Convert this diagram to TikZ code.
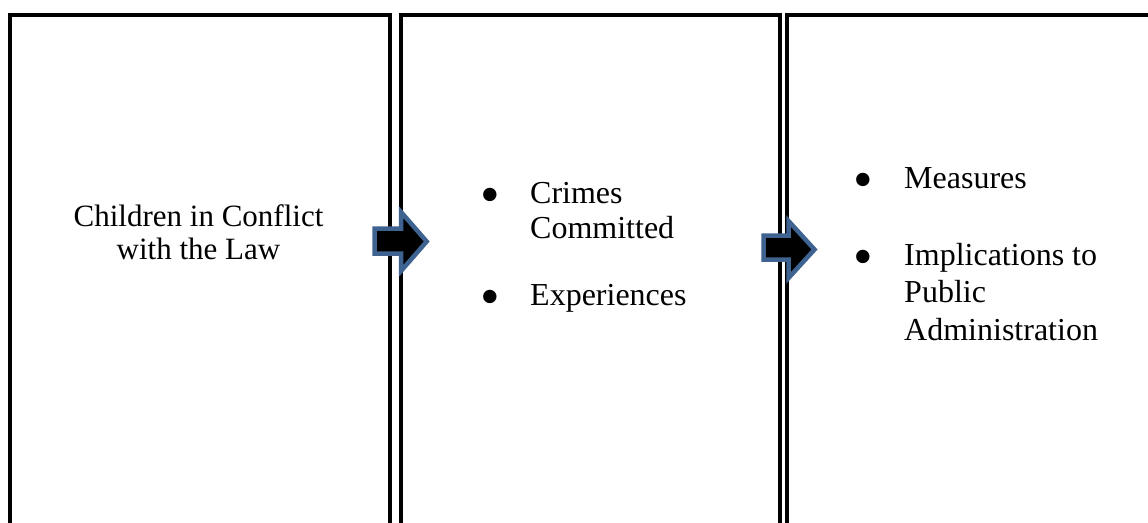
\documentclass[tikz,border=0pt]{standalone}
\usepackage{fontspec}
\setmainfont{Liberation Serif}
\newcommand{\bigbullet}{\raisebox{-10.5pt}{\scalebox{1.75}{\textbullet}}}
\begin{document}
\begin{tikzpicture}[x=1pt,y=-1pt,
  panel/.style={draw=black,line width=4pt,fill=white},
  blockarrow/.style={draw=arrowblue,fill=black,line width=4.5pt,line join=miter},
  txt/.style={inner sep=0pt,font=\fontsize{32}{37}\selectfont},
  bul/.style={txt,anchor=base},
  item/.style={txt,anchor=base west}]
\definecolor{arrowblue}{HTML}{3E6391}
\useasboundingbox (0,0) rectangle (1148,522);
\clip (0,0) rectangle (1148,522);
% three panels, open past the lower edge
\draw[panel] (10,15) rectangle (389.5,600);
\draw[panel] (401,15) rectangle (779.5,600);
\draw[panel] (787,15) rectangle (1200,600);
% block arrows between the panels
\draw[blockarrow] (374.5,228.5) -- (401,228.5) -- (401,212) -- (426.7,241.5)
  -- (401,271) -- (401,253.5) -- (374.5,253.5) -- cycle;
\draw[blockarrow] (763.5,235.5) -- (788.5,235.5) -- (788.5,221) -- (814.5,249.5)
  -- (788.5,278) -- (788.5,259.5) -- (763.5,259.5) -- cycle;
% first panel
\node[txt,font=\fontsize{31}{36}\selectfont,anchor=base] (c1a) at (198.5,226) {Children in Conflict};
\node[txt,font=\fontsize{31}{36}\selectfont,anchor=base] (c1b) at (198.5,259.5) {with the Law};
% second panel
\node[bul] (b2a) at (490,203) {\bigbullet};
\node[item] (t2a) at (530,203) {Crimes};
\node[item] (t2b) at (530,238) {Committed};
\node[bul] (b2b) at (490,305) {\bigbullet};
\node[item] (t2c) at (530,305) {Experiences};
% third panel
\node[bul] (b3a) at (863,188) {\bigbullet};
\node[item] (t3a) at (904,188) {Measures};
\node[bul] (b3b) at (863,265) {\bigbullet};
\node[item] (t3b) at (904,265) {Implications to};
\node[item] (t3c) at (904,302.5) {Public};
\node[item] (t3d) at (904,340) {Administration};
\end{tikzpicture}
\end{document}
